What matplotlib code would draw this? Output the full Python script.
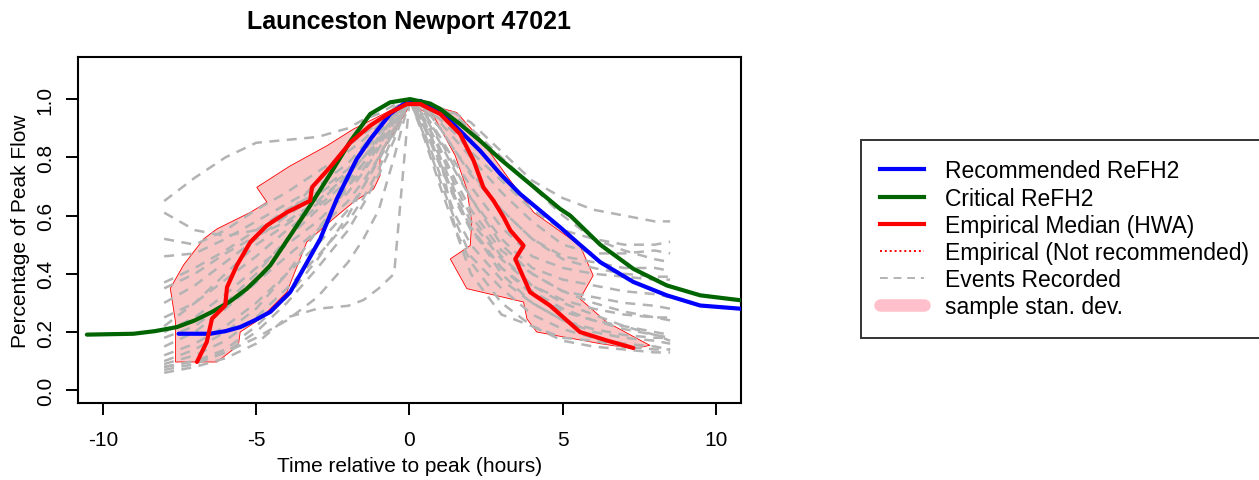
# -*- coding: utf-8 -*-
""" Hydrograph shape chart
"""

import matplotlib
matplotlib.use("Agg")
import matplotlib.pyplot as plt
from matplotlib.lines import Line2D

plt.rcParams["font.family"] = ["Liberation Sans", "DejaVu Sans"]

title = "Launceston Newport 47021"

# ReFH2 design hydrographs
rec_x = [-7.53, -6.5, -6.0, -5.52, -5.05, -4.54, -3.89, -3.46, -2.91, -2.37, -1.72, -1.28,
         -0.63, -0.2, 0.35, 1.0, 1.65, 2.3, 2.96, 3.61, 4.26, 4.91, 5.5, 6.22, 7.3, 8.39,
         9.48, 10.8]
rec_y = [0.194, 0.194, 0.203, 0.217, 0.24, 0.269, 0.337, 0.417, 0.52, 0.657, 0.794, 0.862,
         0.949, 0.983, 0.994, 0.96, 0.891, 0.823, 0.743, 0.674, 0.617, 0.56, 0.505, 0.44,
         0.372, 0.326, 0.291, 0.28]

crit_x = [-10.52, -9.0, -8.3, -7.58, -7.0, -6.44, -5.85, -5.3, -4.85, -4.54, -3.89, -3.24,
          -2.59, -1.93, -1.28, -0.63, 0.02, 0.67, 1.0, 1.65, 2.3, 2.96, 3.61, 4.26, 4.91, 5.24,
          6.22, 7.3, 8.39, 9.48, 10.8]
crit_y = [0.191, 0.194, 0.203, 0.217, 0.24, 0.269, 0.305, 0.349, 0.395, 0.429, 0.531, 0.634,
          0.742, 0.855, 0.949, 0.989, 1.0, 0.985, 0.966, 0.914, 0.857, 0.794, 0.737, 0.68,
          0.623, 0.6, 0.5, 0.417, 0.36, 0.326, 0.309]

# empirical median (HWA)
med_x = [-6.93, -6.61, -6.44, -6.01, -5.95, -5.63, -5.19, -4.65, -4.0, -3.24, -3.18, -2.59,
         -1.93, -1.28, -0.63, -0.09, 0.35, 1.0, 1.65, 2.09, 2.41, 2.74, 3.07, 3.29, 3.72, 3.45,
         3.93, 4.58, 5.56, 6.43, 7.3]
med_y = [0.097, 0.166, 0.246, 0.291, 0.354, 0.429, 0.509, 0.566, 0.611, 0.651, 0.697, 0.766,
         0.851, 0.909, 0.954, 0.983, 0.983, 0.949, 0.88, 0.789, 0.697, 0.651, 0.594, 0.549,
         0.497, 0.451, 0.337, 0.291, 0.2, 0.171, 0.145]

# sample standard deviation envelope (outline)
sd_x = [-7.63, -7.63, -7.8, -7.37, -6.71, -6.28, -5.19, -4.65, -4.98, -3.9, -2.69, -1.83, -0.96,
        -0.09, 0.35, 1.54, 2.31, 3.17, 4.05, 5.56, 5.99, 5.56, 6.43, 7.84,
        7.3, 6.22, 4.15, 3.83, 3.72, 1.87, 1.33, 1.98, 2.03, 1.87, 1.49, 0.78, 0.02,
        -0.96, -0.96, -1.17, -1.83, -2.48, -3.35, -4.0, -4.87, -5.52, -5.58, -6.28]
sd_y = [0.097, 0.234, 0.35, 0.43, 0.52, 0.554, 0.611, 0.646, 0.697, 0.77, 0.84, 0.897, 0.943,
        0.99, 0.989, 0.954, 0.863, 0.737, 0.611, 0.497, 0.394, 0.314, 0.234, 0.154,
        0.143, 0.16, 0.2, 0.245, 0.303, 0.349, 0.451, 0.497, 0.577, 0.691, 0.806, 0.943, 0.98,
        0.806, 0.737, 0.691, 0.646, 0.589, 0.509, 0.337, 0.245, 0.2, 0.154, 0.097]

# recorded events on a common time grid (hours)
ev_t = [-8, -7, -6, -5, -4, -3, -2, -1.5, -1, -0.5, 0, 0.5, 1, 1.5, 2, 3, 4, 5, 6, 7, 8, 8.5]
ev01 = [0.65, 0.73, 0.80, 0.85, 0.86, 0.87, 0.90, 0.93, 0.95, 0.98, 1.0, 0.99, 0.97, 0.95, 0.92, 0.82, 0.72, 0.66, 0.62, 0.60, 0.58, 0.58]
ev02 = [0.61, 0.55, 0.53, 0.55, 0.60, 0.72, 0.84, 0.88, 0.92, 0.97, 1.0, 0.97, 0.93, 0.88, 0.82, 0.72, 0.62, 0.55, 0.52, 0.50, 0.50, 0.51]
ev03 = [0.52, 0.50, 0.55, 0.62, 0.68, 0.75, 0.82, 0.86, 0.91, 0.96, 1.0, 0.98, 0.92, 0.86, 0.80, 0.68, 0.58, 0.50, 0.47, 0.47, 0.48, 0.47]
ev04 = [0.46, 0.47, 0.52, 0.58, 0.64, 0.70, 0.78, 0.84, 0.90, 0.96, 1.0, 0.96, 0.90, 0.82, 0.75, 0.62, 0.52, 0.46, 0.44, 0.42, 0.42, 0.41]
ev05 = [0.37, 0.42, 0.48, 0.55, 0.62, 0.68, 0.76, 0.82, 0.88, 0.95, 1.0, 0.95, 0.87, 0.78, 0.70, 0.56, 0.46, 0.42, 0.40, 0.39, 0.38, 0.38]
ev06 = [0.30, 0.36, 0.44, 0.52, 0.60, 0.67, 0.75, 0.80, 0.87, 0.94, 1.0, 0.94, 0.85, 0.75, 0.66, 0.52, 0.42, 0.38, 0.36, 0.34, 0.33, 0.32]
ev07 = [0.25, 0.30, 0.38, 0.46, 0.55, 0.63, 0.72, 0.78, 0.85, 0.93, 1.0, 0.93, 0.83, 0.72, 0.62, 0.48, 0.40, 0.34, 0.32, 0.30, 0.29, 0.28]
ev08 = [0.20, 0.25, 0.33, 0.42, 0.50, 0.58, 0.68, 0.75, 0.83, 0.92, 1.0, 0.92, 0.80, 0.68, 0.58, 0.45, 0.36, 0.31, 0.28, 0.26, 0.25, 0.25]
ev09 = [0.15, 0.20, 0.28, 0.37, 0.46, 0.55, 0.65, 0.72, 0.80, 0.90, 1.0, 0.90, 0.77, 0.65, 0.55, 0.42, 0.33, 0.27, 0.24, 0.22, 0.20, 0.19]
ev10 = [0.12, 0.16, 0.22, 0.30, 0.40, 0.50, 0.62, 0.70, 0.79, 0.89, 1.0, 0.88, 0.74, 0.60, 0.50, 0.38, 0.30, 0.24, 0.21, 0.19, 0.18, 0.18]
ev11 = [0.09, 0.12, 0.17, 0.25, 0.35, 0.46, 0.58, 0.66, 0.76, 0.88, 1.0, 0.87, 0.72, 0.58, 0.46, 0.35, 0.26, 0.21, 0.18, 0.16, 0.15, 0.14]
ev12 = [0.06, 0.08, 0.11, 0.16, 0.25, 0.28, 0.29, 0.31, 0.35, 0.40, 1.0, 0.92, 0.80, 0.55, 0.40, 0.26, 0.22, 0.18, 0.17, 0.15, 0.14, 0.14]
ev13 = [0.07, 0.09, 0.13, 0.20, 0.30, 0.42, 0.55, 0.64, 0.74, 0.86, 1.0, 0.86, 0.70, 0.55, 0.44, 0.30, 0.22, 0.17, 0.15, 0.14, 0.13, 0.13]
ev14 = [0.10, 0.14, 0.20, 0.28, 0.40, 0.55, 0.70, 0.78, 0.86, 0.94, 1.0, 0.99, 0.97, 0.94, 0.90, 0.80, 0.70, 0.60, 0.52, 0.48, 0.45, 0.44]
ev15 = [0.08, 0.10, 0.14, 0.22, 0.32, 0.45, 0.60, 0.70, 0.80, 0.91, 1.0, 0.97, 0.90, 0.82, 0.74, 0.62, 0.52, 0.45, 0.42, 0.40, 0.39, 0.39]
ev16 = [0.08, 0.10, 0.13, 0.18, 0.24, 0.32, 0.44, 0.52, 0.62, 0.80, 1.0, 0.90, 0.78, 0.66, 0.56, 0.40, 0.30, 0.24, 0.20, 0.18, 0.17, 0.16]
ev17 = [0.35, 0.40, 0.47, 0.53, 0.58, 0.65, 0.74, 0.80, 0.86, 0.93, 1.0, 0.93, 0.82, 0.70, 0.60, 0.46, 0.36, 0.30, 0.26, 0.22, 0.19, 0.17]
ev18 = [0.22, 0.30, 0.40, 0.50, 0.57, 0.64, 0.74, 0.80, 0.86, 0.94, 1.0, 0.91, 0.78, 0.66, 0.56, 0.42, 0.34, 0.28, 0.24, 0.21, 0.19, 0.18]
ev19 = [0.18, 0.22, 0.30, 0.40, 0.52, 0.62, 0.70, 0.76, 0.84, 0.92, 1.0, 0.95, 0.86, 0.76, 0.66, 0.50, 0.40, 0.34, 0.30, 0.27, 0.25, 0.24]
events = [ev01, ev02, ev03, ev04, ev05, ev06, ev07, ev08, ev09, ev10,
          ev11, ev12, ev13, ev14, ev15, ev16, ev17, ev18, ev19]

x_ticks = [-10, -5, 0, 5, 10]
y_ticks = [0.0, 0.2, 0.4, 0.6, 0.8, 1.0]

col_rec = "#0000ff"
col_crit = "#006400"
col_emp = "#ff0000"
col_ev = "#b3b3b3"
col_sd = "#f9c6c6"

fig = plt.figure(figsize=(12.59, 4.81), dpi=100)
ax = fig.add_axes([0.0622, 0.160, 0.5261, 0.719])

ax.fill(sd_x, sd_y, facecolor=col_sd, edgecolor=col_emp, lw=0.6, zorder=1)

for ev in events:
    ax.plot(ev_t, ev, color=col_ev, lw=1.8, dashes=(4, 3), zorder=2)

ax.plot(rec_x, rec_y, color=col_rec, lw=3, zorder=3, solid_capstyle="round", solid_joinstyle="round")
ax.plot(crit_x, crit_y, color=col_crit, lw=3, zorder=3, solid_capstyle="round", solid_joinstyle="round")
ax.plot(med_x, med_y, color=col_emp, lw=3, zorder=4, solid_capstyle="round", solid_joinstyle="round")

ax.set_xlim(-10.8, 10.8)
ax.set_ylim(-0.044, 1.144)
ax.set_xticks(x_ticks)
ax.set_xticklabels([str(v) for v in x_ticks])
ax.set_yticks(y_ticks)
ax.set_yticklabels(["%.1f" % v for v in y_ticks], rotation=90, va="center")
ax.tick_params(direction="out", length=8.5, width=1.4, labelsize=15)
ax.tick_params(axis="x", pad=11)
ax.tick_params(axis="y", pad=8.5)
for s in ax.spines.values():
    s.set_linewidth(1.5)

ax.set_title(title, fontsize=18, fontweight="bold", pad=21)
ax.set_xlabel("Time relative to peak (hours)", fontsize=15, labelpad=5)
ax.set_ylabel("Percentage of Peak Flow", fontsize=15, labelpad=4)

handles = [
    Line2D([], [], color=col_rec, lw=3),
    Line2D([], [], color=col_crit, lw=3),
    Line2D([], [], color=col_emp, lw=3),
    Line2D([], [], color=col_emp, lw=1.4, linestyle=(0, (1, 1.5))),
    Line2D([], [], color=col_ev, lw=1.4, dashes=(4, 3)),
    Line2D([], [], color="#ffc0cb", lw=9, solid_capstyle="round"),
]
labels = ["Recommended ReFH2", "Critical ReFH2", "Empirical Median (HWA)",
          "Empirical (Not recommended)", "Events Recorded", "sample stan. dev."]
leg = fig.legend(handles, labels, loc="upper left", bbox_to_anchor=(861 / 1259, 1 - 141 / 481),
                 fontsize=16.5, frameon=True, fancybox=False, edgecolor="black",
                 handlelength=1.9, handletextpad=0.9, labelspacing=0.18, borderpad=0.85,
                 borderaxespad=0)
leg.get_frame().set_linewidth(1.4)

fig.savefig("out.png", dpi=100)
